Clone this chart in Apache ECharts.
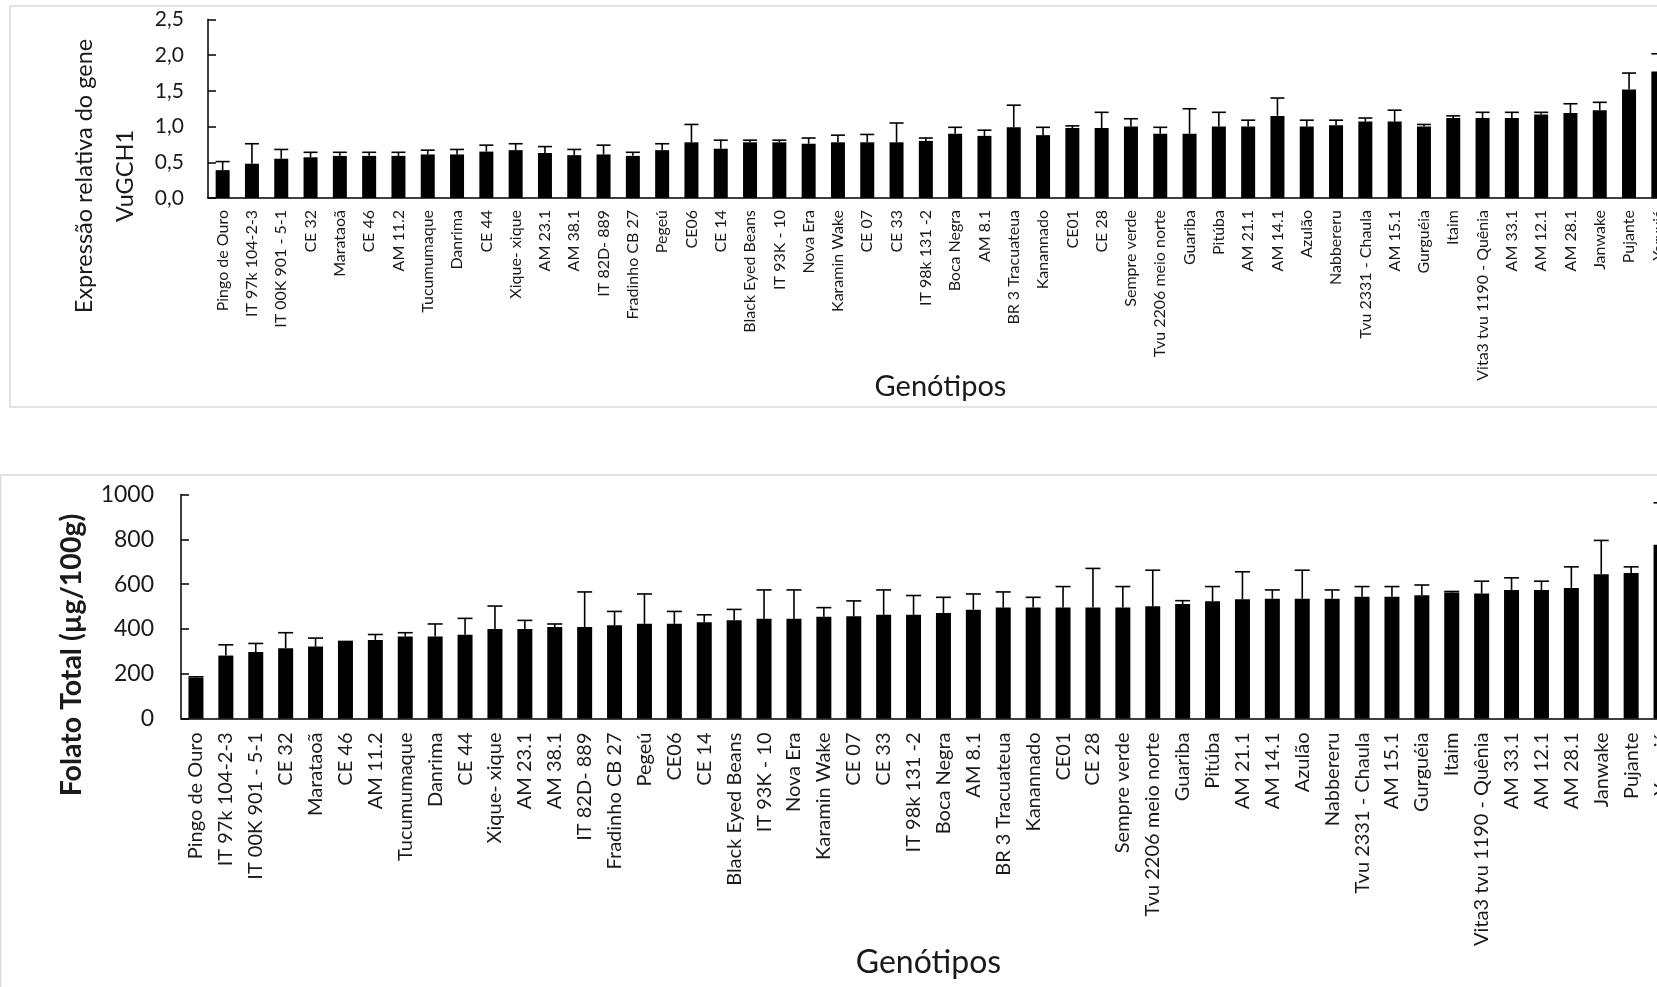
<!DOCTYPE html>
<html>
<head>
<meta charset="utf-8">
<title>Expressão de VuGCH1 e folato total em genótipos de feijão-caupi</title>
<script src="https://cdn.jsdelivr.net/npm/echarts@6/dist/echarts.min.js"></script>
<style>
  html, body { margin: 0; padding: 0; background: #ffffff; overflow: hidden; }
  #chart { width: 1700px; height: 987px; }
</style>
</head>
<body>
<div id="chart"></div>
<script>
// Genótipos (ordem crescente de folato total)
const genotypes = [
  'Pingo de Ouro', 'IT 97k 104-2-3', 'IT 00K 901 - 5-1', 'CE 32', 'Marataoã',
  'CE 46', 'AM 11.2', 'Tucumumaque', 'Danrima', 'CE 44',
  'Xique- xique', 'AM 23.1', 'AM 38.1', 'IT 82D- 889', 'Fradinho CB 27',
  'Pegeú', 'CE06', 'CE 14', 'Black Eyed Beans', 'IT 93K - 10',
  'Nova Era', 'Karamin Wake', 'CE 07', 'CE 33', 'IT 98k 131 -2',
  'Boca Negra', 'AM 8.1', 'BR 3 Tracuateua', 'Kanannado', 'CE01',
  'CE 28', 'Sempre verde', 'Tvu 2206 meio norte', 'Guariba', 'Pitúba',
  'AM 21.1', 'AM 14.1', 'Azulão', 'Nabbereru', 'Tvu 2331 - Chaula',
  'AM 15.1', 'Gurguéia', 'Itaim', 'Vita3 tvu 1190 - Quênia', 'AM 33.1',
  'AM 12.1', 'AM 28.1', 'Janwake', 'Pujante', 'Yaruxiá'
];

// Expressão relativa do gene VuGCH1 (média e desvio)
const vuGCH1Mean = [
  0.39, 0.48, 0.55, 0.57, 0.59, 0.59, 0.59, 0.61, 0.61, 0.65,
  0.67, 0.63, 0.60, 0.61, 0.59, 0.67, 0.78, 0.69, 0.78, 0.78,
  0.76, 0.78, 0.78, 0.78, 0.80, 0.90, 0.87, 0.99, 0.88, 0.98,
  0.98, 1.00, 0.90, 0.90, 1.00, 1.00, 1.15, 1.00, 1.02, 1.07,
  1.07, 1.00, 1.12, 1.12, 1.12, 1.17, 1.19, 1.23, 1.52, 1.77
];
const vuGCH1Sd = [
  0.12, 0.28, 0.13, 0.07, 0.05, 0.05, 0.05, 0.06, 0.07, 0.09,
  0.09, 0.09, 0.08, 0.13, 0.05, 0.09, 0.25, 0.12, 0.03, 0.03,
  0.08, 0.10, 0.11, 0.27, 0.04, 0.09, 0.08, 0.31, 0.11, 0.03,
  0.22, 0.11, 0.09, 0.35, 0.20, 0.09, 0.25, 0.09, 0.07, 0.05,
  0.16, 0.03, 0.03, 0.08, 0.08, 0.03, 0.13, 0.11, 0.23, 0.25
];

// Folato total, µg/100g (média e desvio)
const folateMean = [
  182, 281, 297, 314, 321, 341, 351, 366, 366, 374,
  399, 399, 408, 408, 416, 423, 423, 430, 439, 445,
  445, 454, 456, 463, 463, 471, 486, 495, 495, 495,
  495, 495, 501, 511, 523, 532, 535, 535, 535, 543,
  543, 550, 562, 558, 574, 574, 583, 644, 650, 776
];
const folateSd = [
  4, 48, 38, 69, 38, 3, 24, 17, 56, 73,
  103, 39, 14, 157, 62, 133, 55, 33, 48, 129,
  129, 41, 69, 111, 86, 70, 70, 70, 46, 94,
  175, 94, 161, 15, 66, 123, 39, 127, 39, 46,
  46, 46, 5, 55, 54, 39, 94, 151, 27, 187
];

const FONT = 'Lato, "Noto Sans", sans-serif';
const INK = '#1a1a1a';

// Upper error bar: stem from the bar top plus a cap
function errorBar(capHalf) {
  return function (params, api) {
    const idx = api.value(0);
    const mean = api.value(1);
    const sd = api.value(2);
    const base = api.coord([idx, mean]);
    const top = api.coord([idx, mean + sd]);
    const style = { stroke: '#000', lineWidth: 1.6 };
    return {
      type: 'group',
      children: [
        { type: 'line', shape: { x1: base[0], y1: base[1], x2: top[0], y2: top[1] }, style },
        { type: 'line', shape: { x1: top[0] - capHalf, y1: top[1], x2: top[0] + capHalf, y2: top[1] }, style }
      ]
    };
  };
}

function valueAxis(gridIndex, max, interval, opts) {
  return {
    type: 'value',
    gridIndex,
    min: 0,
    max,
    interval,
    axisLine: { show: true, lineStyle: { color: '#000', width: 1.5 } },
    axisTick: { show: true, inside: true, length: 8, lineStyle: { color: '#000', width: 1.5 } },
    splitLine: { show: false },
    axisLabel: {
      fontFamily: FONT, fontSize: opts.labelSize, color: INK, margin: opts.labelMargin,
      formatter: opts.formatter
    }
  };
}

function categoryAxis(gridIndex, fontSize, margin, nameGap, nameSize) {
  return {
    type: 'category',
    gridIndex,
    data: genotypes,
    boundaryGap: true,
    name: 'Genótipos',
    nameLocation: 'middle',
    nameGap,
    nameMoveOverlap: false,
    nameTextStyle: { fontFamily: FONT, fontSize: nameSize, color: INK },
    axisLine: { show: true, lineStyle: { color: '#000', width: 1.5 } },
    axisTick: { show: false },
    axisLabel: {
      interval: 0, rotate: 90, fontFamily: FONT, fontSize, color: INK, margin
    }
  };
}

const chart = echarts.init(document.getElementById('chart'), null, { renderer: 'canvas' });

chart.setOption({
  backgroundColor: '#ffffff',
  animation: false,
  graphic: [
    // panel frames
    { type: 'rect', shape: { x: 10, y: 6, width: 1720, height: 401 },
      style: { fill: 'none', stroke: '#d9d9d9', lineWidth: 1.5 }, z: -1 },
    { type: 'rect', shape: { x: 0.5, y: 475, width: 1720, height: 600 },
      style: { fill: 'none', stroke: '#d9d9d9', lineWidth: 1.5 }, z: -1 },
    // value-axis titles, set a little below the axis middles
    { type: 'text', x: 105, y: 176, rotation: Math.PI / 2,
      style: {
        text: 'Expressão relativa do gene\nVuGCH1',
        fontFamily: FONT, fontSize: 23.5, lineHeight: 41, fill: INK,
        align: 'center', verticalAlign: 'middle'
      } },
    { type: 'text', x: 72, y: 655, rotation: Math.PI / 2,
      style: {
        text: 'Folato Total (µg/100g)',
        fontFamily: FONT, fontSize: 28.5, fontWeight: 'bold', fill: INK,
        align: 'center', verticalAlign: 'middle'
      } }
  ],
  grid: [
    { left: 208, top: 19.5, width: 1465, height: 178.5, containLabel: false, outerBoundsMode: 'none' },
    { left: 181, top: 494.5, width: 1495, height: 224, containLabel: false, outerBoundsMode: 'none' }
  ],
  xAxis: [
    categoryAxis(0, 16, 12, 174, 29),
    categoryAxis(1, 20, 14, 228, 32)
  ],
  yAxis: [
    valueAxis(0, 2.5, 0.5, {
      labelSize: 21, labelMargin: 24,
      formatter: v => v.toFixed(1).replace('.', ',')
    }),
    valueAxis(1, 1000, 200, {
      labelSize: 23, labelMargin: 27,
      formatter: v => String(v)
    })
  ],
  series: [
    {
      type: 'bar', xAxisIndex: 0, yAxisIndex: 0, data: vuGCH1Mean,
      barWidth: 14, itemStyle: { color: '#000' }, silent: true
    },
    {
      type: 'custom', xAxisIndex: 0, yAxisIndex: 0, renderItem: errorBar(7),
      data: vuGCH1Mean.map((m, i) => [i, m, vuGCH1Sd[i]]), z: 3, silent: true
    },
    {
      type: 'bar', xAxisIndex: 1, yAxisIndex: 1, data: folateMean,
      barWidth: 15, itemStyle: { color: '#000' }, silent: true
    },
    {
      type: 'custom', xAxisIndex: 1, yAxisIndex: 1, renderItem: errorBar(7.5),
      data: folateMean.map((m, i) => [i, m, folateSd[i]]), z: 3, silent: true
    }
  ]
});
</script>
</body>
</html>
